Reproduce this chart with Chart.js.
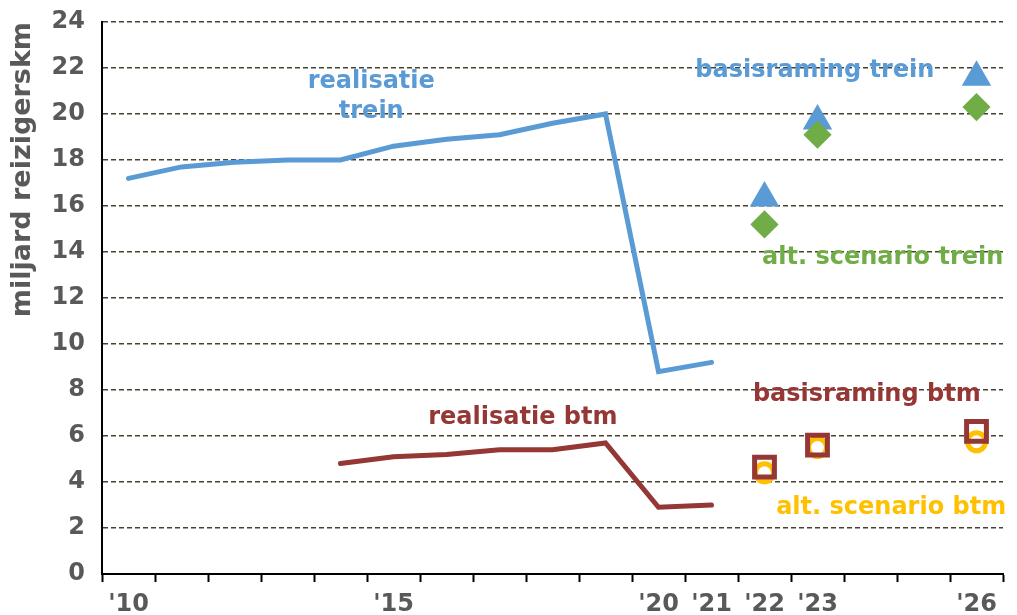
<!DOCTYPE html>
<html>
<head>
<meta charset="utf-8">
<script src="https://cdn.jsdelivr.net/npm/chart.js@4/dist/chart.umd.min.js"></script>
<style>
  html, body { margin: 0; padding: 0; background: #fff; }
  #wrap { width: 1017px; height: 615px; }
</style>
</head>
<body>
<div id="wrap"><canvas id="reizigerskmChart" width="1017" height="615"></canvas></div>
<script>
const years = ['2010', '2011', '2012', '2013', '2014', '2015', '2016', '2017', '2018',
  '2019', '2020', '2021', '2022', '2023', '2024', '2025', '2026'];
const yearTicks = ["'10", '', '', '', '', "'15", '', '', '', '', "'20", "'21", "'22", "'23", '', '', "'26"];

// miljard reizigerskm
const realisatieTrein = [17.2, 17.7, 17.9, 18.0, 18.0, 18.6, 18.9, 19.1, 19.6, 20.0, 8.8, 9.2,
  null, null, null, null, null];
const realisatieBtm = [null, null, null, null, 4.8, 5.1, 5.2, 5.4, 5.4, 5.7, 2.9, 3.0,
  null, null, null, null, null];
const basisramingTrein = [null, null, null, null, null, null, null, null, null, null, null, null,
  16.35, 19.7, null, null, 21.6];
const altScenarioTrein = [null, null, null, null, null, null, null, null, null, null, null, null,
  15.2, 19.1, null, null, 20.3];
const basisramingBtm = [null, null, null, null, null, null, null, null, null, null, null, null,
  4.65, 5.6, null, null, 6.2];
const altScenarioBtm = [null, null, null, null, null, null, null, null, null, null, null, null,
  4.4, 5.5, null, null, 5.75];

const blue = '#5B9BD5';
const green = '#70AD47';
const brown = '#953735';
const yellow = '#FFC000';
const grey = '#595959';
const fontFamily = '"DejaVu Sans", Verdana, sans-serif';

// tekstlabels in het plot: [tekst, x (categorie-index), y (waarde), kleur]
const chartLabels = [
  ['realisatie', 4.58, 21.4, blue],
  ['trein', 4.58, 20.1, blue],
  ['basisraming trein', 12.95, 21.9, blue],
  ['alt. scenario trein', 14.23, 13.75, green],
  ['basisraming btm', 13.93, 7.8, brown],
  ['realisatie btm', 7.44, 6.8, brown],
  ['alt. scenario btm', 14.39, 2.9, yellow]
];

const labelPlugin = {
  id: 'labelPlugin',
  afterDatasetsDraw(chart) {
    const ctx = chart.ctx;
    const x = chart.scales.x;
    const y = chart.scales.y;
    ctx.save();
    ctx.font = 'bold 24px ' + fontFamily;
    ctx.textAlign = 'center';
    ctx.textBaseline = 'middle';
    chartLabels.forEach(([text, xi, yv, color]) => {
      ctx.fillStyle = color;
      ctx.fillText(text, x.getPixelForValue(xi), y.getPixelForValue(yv));
    });
    ctx.restore();
  }
};

new Chart(document.querySelector('#reizigerskmChart'), {
  type: 'line',
  data: {
    labels: years,
    datasets: [
      {
        label: 'realisatie trein',
        data: realisatieTrein,
        borderColor: blue,
        borderWidth: 5,
        borderCapStyle: 'round',
        pointRadius: 0,
        tension: 0,
        order: 5
      },
      {
        label: 'realisatie btm',
        data: realisatieBtm,
        borderColor: brown,
        borderWidth: 5,
        borderCapStyle: 'round',
        pointRadius: 0,
        tension: 0,
        order: 5
      },
      {
        label: 'basisraming trein',
        data: basisramingTrein,
        showLine: false,
        pointStyle: 'triangle',
        pointRadius: 14,
        pointBackgroundColor: blue,
        pointBorderColor: blue,
        pointBorderWidth: 3,
        order: 4
      },
      {
        label: 'alt. scenario trein',
        data: altScenarioTrein,
        showLine: false,
        pointStyle: 'rectRot',
        pointRadius: 12,
        pointBackgroundColor: green,
        pointBorderColor: green,
        pointBorderWidth: 3,
        order: 3
      },
      {
        label: 'alt. scenario btm',
        data: altScenarioBtm,
        showLine: false,
        pointStyle: 'circle',
        pointRadius: 9,
        pointBackgroundColor: '#fff',
        pointBorderColor: yellow,
        pointBorderWidth: 5,
        order: 2
      },
      {
        label: 'basisraming btm',
        data: basisramingBtm,
        showLine: false,
        pointStyle: 'rect',
        pointRadius: 14,
        pointBackgroundColor: 'rgba(0,0,0,0)',
        pointBorderColor: brown,
        pointBorderWidth: 5,
        order: 1
      }
    ]
  },
  options: {
    responsive: false,
    devicePixelRatio: 1,
    animation: false,
    layout: {
      autoPadding: false,
      padding: { top: 22, right: 14, left: 0, bottom: 0 }
    },
    plugins: {
      legend: { display: false },
      tooltip: { enabled: false }
    },
    scales: {
      x: {
        offset: true,
        grid: {
          offset: true,
          drawOnChartArea: false,
          drawTicks: true,
          tickLength: 8,
          tickWidth: 2,
          tickColor: '#000'
        },
        border: { color: '#000', width: 2 },
        ticks: {
          autoSkip: false,
          maxRotation: 0,
          padding: 8,
          color: grey,
          font: { family: fontFamily, size: 24, weight: 'bold' },
          callback: (value, index) => yearTicks[index]
        },
        afterFit: (scale) => {
          scale.height = 41;
          scale.paddingLeft = 0;
          scale.paddingRight = 0;
        }
      },
      y: {
        min: 0,
        max: 24,
        ticks: {
          stepSize: 2,
          padding: 17,
          color: grey,
          font: { family: fontFamily, size: 24, weight: 'bold' }
        },
        grid: {
          drawTicks: false,
          lineWidth: 1.5,
          color: (c) => c.tick && c.tick.value === 0 ? 'rgba(0,0,0,0)' : '#46412B'
        },
        border: { color: '#000', width: 2, dash: [5, 3] },
        title: {
          display: true,
          text: 'miljard reizigerskm',
          align: 'end',
          color: grey,
          font: { family: fontFamily, size: 27, weight: 'bold' },
          padding: { top: 7, bottom: 0 }
        },
        afterFit: (scale) => {
          scale.width = 102;
          scale.paddingTop = 0;
          scale.paddingBottom = 0;
        }
      }
    }
  },
  plugins: [labelPlugin]
});
</script>
</body>
</html>
